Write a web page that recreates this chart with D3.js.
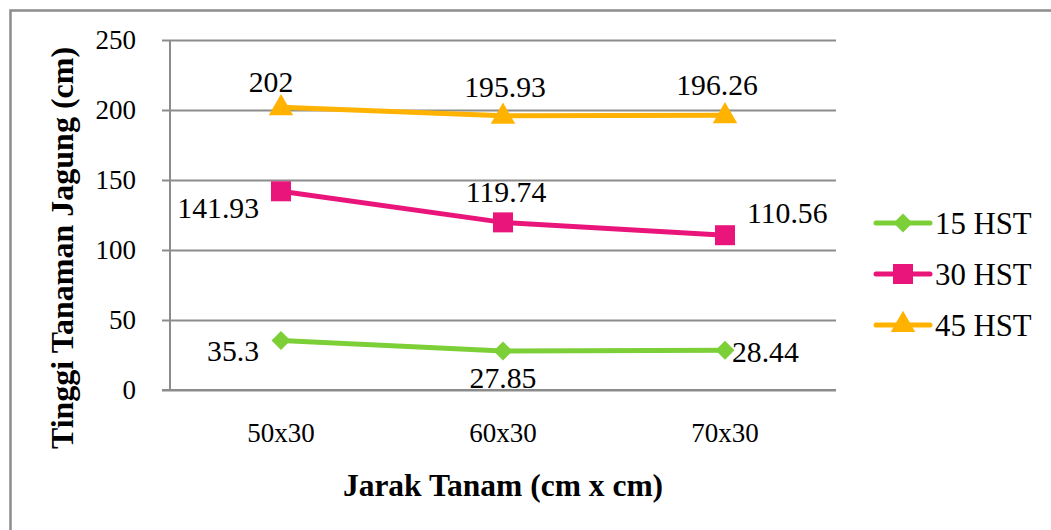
<!DOCTYPE html>
<html>
<head>
<meta charset="utf-8">
<script src="https://cdn.jsdelivr.net/npm/d3@7"></script>
<style>
  html, body { margin: 0; padding: 0; background: #fff; }
  svg { display: block; }
</style>
</head>
<body>
<svg id="chart" width="1051" height="530"></svg>
<script>
// ---- data ----
const categories = ["50x30", "60x30", "70x30"];
const seriesNames = ["15 HST", "30 HST", "45 HST"];
const hst15 = [35.3, 27.85, 28.44];
const hst30 = [141.93, 119.74, 110.56];
const hst45 = [202, 195.93, 196.26];
const yTicks = [0, 50, 100, 150, 200, 250];
const xTitle = "Jarak Tanam (cm x cm)";
const yTitle = "Tinggi Tanaman Jagung (cm)";

// ---- style ----
const FONT = "Liberation Serif";
const BASE_SIZE = 27;
const LABEL_SCALE = 1.1;
const colors = ["#7dcf38", "#e9157b", "#ffb300"];
const symbols = [d3.symbolSquare, d3.symbolSquare, d3.symbolTriangle];
const symbolRot = [45, 0, 0];
const symbolSizes = [180, 400, 260];
// label layout per series/point: [dx, dy, anchor]
const labelLayout = [
  [[-22, 20, "end"], [0, 37, "middle"], [7, 12, "start"]],
  [[-22, 27, "end"], [3, -20, "middle"], [22, -12, "start"]],
  [[-10, -15, "middle"], [2, -19, "middle"], [-8, -20, "middle"]]
];

const series = [hst15, hst30, hst45].map((vals, i) => ({
  name: seriesNames[i], values: vals, color: colors[i], symbol: symbols[i],
  rot: symbolRot[i], size: symbolSizes[i], layout: labelLayout[i]
}));

const svg = d3.select("#chart");

// outer border
svg.append("rect")
  .attr("x", 10.5).attr("y", 10.5).attr("width", 1200).attr("height", 700)
  .attr("fill", "none").attr("stroke", "#8c8c8c").attr("stroke-width", 2.5);

const plot = { left: 170, right: 836, top: 40, bottom: 390 };

const x = d3.scaleBand().domain(categories).range([plot.left, plot.right]);
const y = d3.scaleLinear().domain([0, 250]).range([plot.bottom, plot.top]);
const cx = c => x(c) + x.bandwidth() / 2;

// gridlines + y ticks
const yAxis = d3.axisLeft(y).tickValues(yTicks).tickSize(-(plot.right - plot.left) - 8).tickPadding(18).tickFormat(d3.format("d"));
const gy = svg.append("g").attr("transform", `translate(${plot.left - 8},0)`).call(yAxis);
gy.attr("font-family", FONT);
gy.select(".domain").remove();
gy.selectAll(".tick line").attr("stroke", "#8c8c8c").attr("stroke-width", 2);
gy.selectAll(".tick text").attr("font-size", BASE_SIZE).attr("fill", "#000").attr("x", -18).attr("dx", -8);

// y axis line
svg.append("line")
  .attr("x1", plot.left).attr("x2", plot.left).attr("y1", plot.top).attr("y2", plot.bottom)
  .attr("stroke", "#8c8c8c").attr("stroke-width", 2);

// x category labels
const xAxis = d3.axisBottom(x).tickSize(0).tickPadding(0);
const gx = svg.append("g").attr("transform", `translate(0,${plot.bottom})`).call(xAxis);
gx.attr("font-family", FONT);
gx.select(".domain").remove();
gx.selectAll(".tick text").attr("font-size", BASE_SIZE).attr("fill", "#000").attr("dy", 52);

// lines + markers
const line = d3.line().x((d, i) => cx(categories[i])).y(d => y(d));
series.forEach(s => {
  svg.append("path").datum(s.values)
    .attr("d", line).attr("fill", "none").attr("stroke", s.color)
    .attr("stroke-width", 5).attr("stroke-linejoin", "round");
  svg.append("g").selectAll("path").data(s.values).join("path")
    .attr("d", d3.symbol().type(s.symbol).size(s.size))
    .attr("transform", (d, i) => `translate(${cx(categories[i])},${y(d) + (s.symbol === d3.symbolTriangle ? 1 : 0)}) rotate(${s.rot})`)
    .attr("fill", s.color);
});

// data labels
const labelsG = svg.append("g").attr("font-family", FONT).attr("font-size", BASE_SIZE);
series.forEach(s => {
  s.values.forEach((d, i) => {
    labelsG.append("text")
      .attr("transform", `translate(${cx(categories[i]) + s.layout[i][0]},${y(d) + s.layout[i][1]}) scale(${LABEL_SCALE})`)
      .attr("text-anchor", s.layout[i][2])
      .attr("fill", "#000")
      .text(String(d));
  });
});

// redraw x baseline over labels (as in the original)
svg.append("line")
  .attr("x1", plot.left - 8).attr("x2", plot.right).attr("y1", plot.bottom).attr("y2", plot.bottom)
  .attr("stroke", "#8c8c8c").attr("stroke-width", 2);

// axis titles
svg.append("text").attr("x", 503).attr("y", 496).attr("text-anchor", "middle")
  .attr("font-family", FONT).attr("font-size", 31.5).attr("font-weight", "bold").text(xTitle);
svg.append("text").attr("transform", "translate(73,248) rotate(-90)").attr("text-anchor", "middle")
  .attr("font-family", FONT).attr("font-size", 32).attr("font-weight", "bold").text(yTitle);

// legend
const legend = svg.append("g").attr("font-family", FONT).attr("font-size", BASE_SIZE);
series.forEach((s, i) => {
  const ly = 223 + i * 51;
  legend.append("line").attr("x1", 876).attr("x2", 930).attr("y1", ly).attr("y2", ly)
    .attr("stroke", s.color).attr("stroke-width", 5).attr("stroke-linecap", "round");
  legend.append("path").attr("d", d3.symbol().type(s.symbol).size(s.size))
    .attr("transform", `translate(903,${ly}) rotate(${s.rot})`).attr("fill", s.color);
  legend.append("text").attr("transform", `translate(935,${ly + 11}) scale(1.14)`)
    .attr("fill", "#000").text(s.name);
});
</script>
</body>
</html>
